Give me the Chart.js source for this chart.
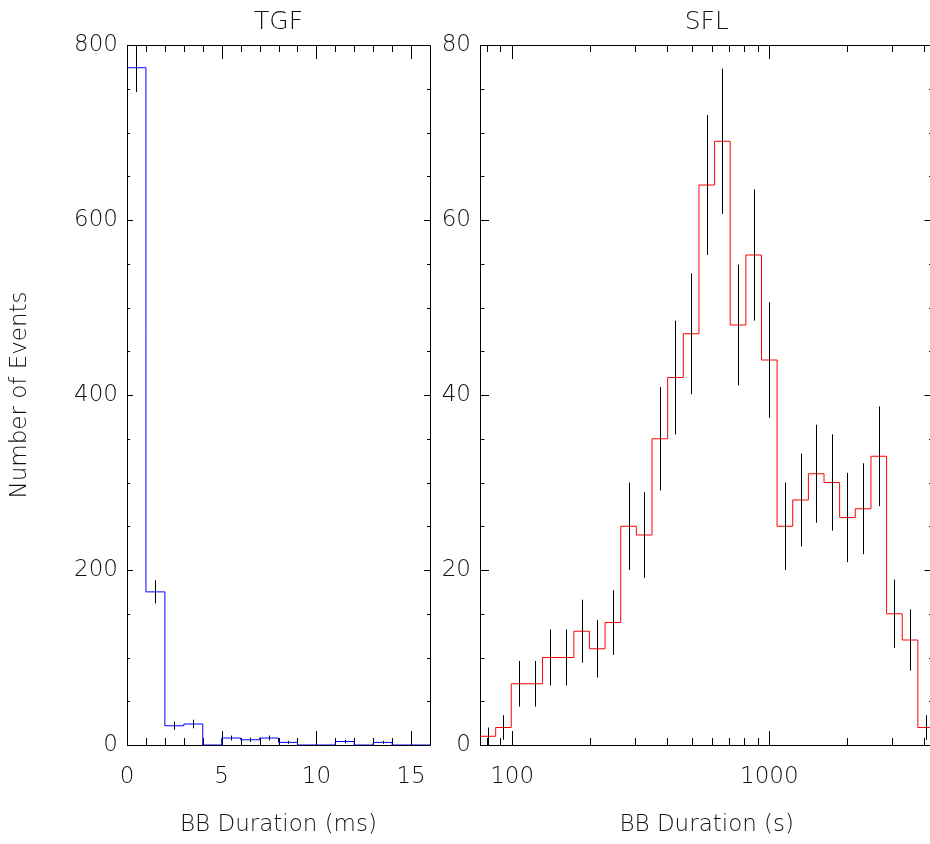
<!DOCTYPE html>
<html>
<head>
<meta charset="utf-8">
<script src="https://cdn.jsdelivr.net/npm/chart.js@4.4.1/dist/chart.umd.min.js"></script>
<style>
html, body { margin: 0; padding: 0; background: #fff; overflow: hidden; }
#tgf { position: absolute; left: 0; top: 0; }
#sfl { position: absolute; left: 440px; top: 0; }
</style>
</head>
<body>
<canvas id="tgf" width="440" height="844"></canvas>
<canvas id="sfl" width="500" height="844"></canvas>
<script>
// TGF histogram, 1 ms bins
var tgfEdges = [0, 1, 2, 3, 4, 5, 6, 7, 8, 9, 10, 11, 12, 13, 14, 15, 16];
var tgfCounts = [774, 175, 22, 24, 0, 8, 6, 8, 3, 0, 0, 4, 0, 3, 0, 0];
var tgfErrors = [27.8, 13.2, 4.7, 4.9, 0, 2.8, 2.4, 2.8, 1.7, 0, 0, 2, 0, 1.7, 0, 0];
var tgfXMajor = [0, 5, 10, 15];
var tgfXMinor = [1, 2, 3, 4, 6, 7, 8, 9, 11, 12, 13, 14];
var tgfYMajor = [0, 200, 400, 600, 800];
var tgfYMinor = [50, 100, 150, 250, 300, 350, 450, 500, 550, 650, 700, 750];

// SFL histogram, log bins (s)
var sflEdges = [75.0, 86.3, 99.2, 114.2, 131.3, 151.0, 173.7, 199.8, 229.8, 264.4,
  304.1, 349.8, 402.4, 462.9, 532.5, 612.5, 704.6, 810.5, 932.3, 1072,
  1233, 1419, 1632, 1877, 2159, 2484, 2857, 3287, 3781, 4349];
var sflCounts = [1, 2, 7, 7, 10, 10, 13, 11, 14, 25, 24, 35, 42, 47, 64, 69, 48, 56, 44,
  25, 28, 31, 30, 26, 27, 33, 15, 12, 2];
var sflErrors = [1, 1.4, 2.6, 2.6, 3.2, 3.2, 3.6, 3.3, 3.7, 5, 4.9, 5.9, 6.5, 6.9, 8, 8.3,
  6.9, 7.5, 6.6, 5, 5.3, 5.6, 5.5, 5.1, 5.2, 5.7, 3.9, 3.5, 1.4];
var sflXMajor = [100, 1000];
var sflXMinor = [80, 90, 200, 300, 400, 500, 600, 700, 800, 900, 2000, 3000, 4000];
var sflYMajor = [0, 20, 40, 60, 80];
var sflYMinor = [5, 10, 15, 25, 30, 35, 45, 50, 55, 65, 70, 75];

Chart.defaults.font.family = '"DejaVu Sans", sans-serif';
Chart.defaults.font.weight = 200;
Chart.defaults.color = '#111';

function stepPoints(edges, counts) {
  var pts = [];
  for (var i = 0; i < counts.length; i++) {
    pts.push({x: edges[i], y: counts[i]});
  }
  pts.push({x: edges[edges.length - 1], y: counts[counts.length - 1]});
  return pts;
}

// box, inward ticks and error bars
var framePlugin = {
  id: 'frame',
  beforeDatasetsDraw: function(chart, args, o) {
    var a = chart.chartArea, ctx = chart.ctx;
    var xs = chart.scales.x, ys = chart.scales.y;
    ctx.save();
    ctx.strokeStyle = '#000';
    ctx.lineWidth = 1;
    ctx.beginPath();
    ctx.rect(Math.round(a.left) + 0.5, Math.round(a.top) + 0.5,
      Math.round(a.right) - Math.round(a.left), Math.round(a.bottom) - Math.round(a.top));
    function xt(list, len) {
      list.forEach(function(v) {
        var px = Math.round(xs.getPixelForValue(v)) + 0.5;
        ctx.moveTo(px, a.bottom); ctx.lineTo(px, a.bottom - len);
        ctx.moveTo(px, a.top); ctx.lineTo(px, a.top + len);
      });
    }
    function yt(list, len) {
      list.forEach(function(v) {
        var py = Math.round(ys.getPixelForValue(v)) + 0.5;
        ctx.moveTo(a.left, py); ctx.lineTo(a.left + len, py);
        ctx.moveTo(a.right, py); ctx.lineTo(a.right - len, py);
      });
    }
    xt(o.xMajor, 14); xt(o.xMinor, 7);
    yt(o.yMajor, o.yLen); yt(o.yMinor, o.yLen / 2);
    ctx.stroke();
    ctx.restore();
  },
  afterDatasetsDraw: function(chart, args, o) {
    var a = chart.chartArea, ctx = chart.ctx;
    var xs = chart.scales.x, ys = chart.scales.y;
    ctx.save();
    ctx.beginPath();
    ctx.rect(a.left, a.top, a.right - a.left, a.bottom - a.top);
    ctx.clip();
    ctx.strokeStyle = '#000';
    ctx.lineWidth = 1;
    ctx.beginPath();
    for (var i = 0; i < o.counts.length; i++) {
      if (!o.errors[i]) continue;
      var c = o.log ? Math.sqrt(o.edges[i] * o.edges[i + 1]) : (o.edges[i] + o.edges[i + 1]) / 2;
      var px = Math.round(xs.getPixelForValue(c)) + 0.5;
      ctx.moveTo(px, ys.getPixelForValue(o.counts[i] - o.errors[i]));
      ctx.lineTo(px, ys.getPixelForValue(o.counts[i] + o.errors[i]));
    }
    ctx.stroke();
    ctx.restore();
  }
};

function fixTicks(list) {
  return function(scale) {
    scale.ticks = list.map(function(v) { return {value: v}; });
  };
}

function fixX(s) {
  s.height = 99;
  s.paddingLeft = 0;
  s.paddingRight = 0;
}

var tickFont = {size: 23};

new Chart(document.getElementById('tgf'), {
  type: 'line',
  data: {
    datasets: [{
      data: stepPoints(tgfEdges, tgfCounts),
      stepped: true,
      borderColor: '#0000ff',
      borderWidth: 1,
      pointRadius: 0,
      fill: false
    }]
  },
  options: {
    responsive: false,
    animation: false,
    layout: {padding: {left: 0, right: 10, top: 0, bottom: 0}},
    plugins: {
      legend: {display: false},
      tooltip: {enabled: false},
      title: {display: true, text: 'TGF', fullSize: false, font: {size: 25, weight: 200},
        color: '#111', padding: {top: 7, bottom: 8}},
      frame: {xMajor: tgfXMajor, xMinor: tgfXMinor, yMajor: tgfYMajor, yMinor: tgfYMinor,
        yLen: 6, edges: tgfEdges, counts: tgfCounts, errors: tgfErrors, log: false}
    },
    scales: {
      x: {
        type: 'linear', min: 0, max: 16,
        grid: {display: false, drawTicks: false},
        border: {display: false},
        ticks: {padding: 18, font: tickFont, maxRotation: 0,
          callback: function(v) { return String(v); }},
        afterBuildTicks: fixTicks(tgfXMajor),
        afterFit: fixX,
        title: {display: true, text: 'BB Duration (ms)', font: {size: 23}, padding: {top: 0, bottom: 5}}
      },
      y: {
        type: 'linear', min: 0, max: 800,
        grid: {display: false, drawTicks: false},
        border: {display: false},
        ticks: {padding: 9, font: tickFont, callback: function(v) { return String(v); }},
        afterBuildTicks: fixTicks(tgfYMajor),
        afterFit: function(s) { s.width = 127; },
        title: {display: true, text: 'Number of Events', font: {size: 23}, padding: {top: 6, bottom: 0}}
      }
    }
  },
  plugins: [framePlugin]
});

new Chart(document.getElementById('sfl'), {
  type: 'line',
  data: {
    datasets: [{
      data: stepPoints(sflEdges, sflCounts),
      stepped: true,
      borderColor: '#ff0000',
      borderWidth: 1,
      pointRadius: 0,
      fill: false
    }]
  },
  options: {
    responsive: false,
    animation: false,
    layout: {padding: {left: 0, right: 6.5, top: 0, bottom: 0}},
    plugins: {
      legend: {display: false},
      tooltip: {enabled: false},
      title: {display: true, text: 'SFL', fullSize: false, font: {size: 25, weight: 200},
        color: '#111', padding: {top: 7, bottom: 8}},
      frame: {xMajor: sflXMajor, xMinor: sflXMinor, yMajor: sflYMajor, yMinor: sflYMinor,
        yLen: 9, edges: sflEdges, counts: sflCounts, errors: sflErrors, log: true}
    },
    scales: {
      x: {
        type: 'logarithmic', min: sflEdges[0], max: sflEdges[sflEdges.length - 1],
        grid: {display: false, drawTicks: false},
        border: {display: false},
        ticks: {padding: 18, font: tickFont, maxRotation: 0, autoSkip: false,
          callback: function(v) { return String(v); }},
        afterBuildTicks: fixTicks(sflXMajor),
        afterFit: fixX,
        title: {display: true, text: 'BB Duration (s)', font: {size: 23}, padding: {top: 0, bottom: 5}}
      },
      y: {
        type: 'linear', min: 0, max: 80,
        grid: {display: false, drawTicks: false},
        border: {display: false},
        ticks: {padding: 9, font: tickFont, callback: function(v) { return String(v); }},
        afterBuildTicks: fixTicks(sflYMajor),
        afterFit: function(s) { s.width = 40; }
      }
    }
  },
  plugins: [framePlugin]
});
</script>
</body>
</html>
